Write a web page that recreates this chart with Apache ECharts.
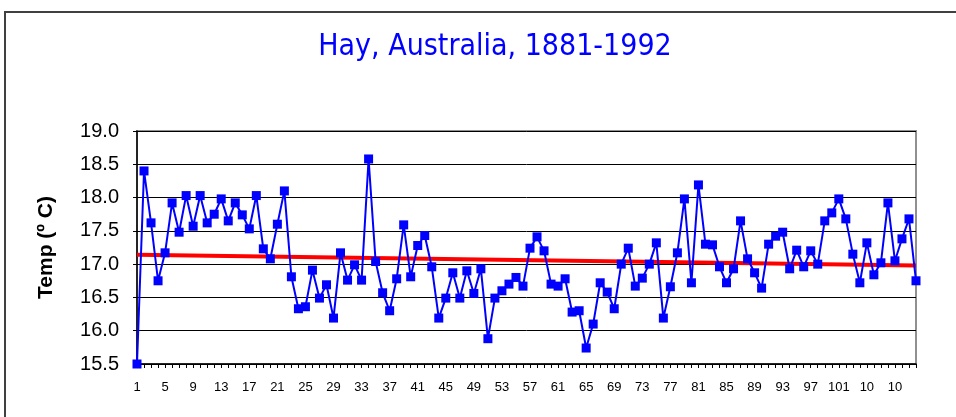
<!DOCTYPE html>
<html>
<head>
<meta charset="utf-8">
<script src="https://cdn.jsdelivr.net/npm/echarts@6/dist/echarts.min.js"></script>
<style>
    html, body { margin: 0; padding: 0; background: #fff; }
    #chart { width: 956px; height: 417px; }
</style>
</head>
<body>
<div id="chart"></div>
<script>
// mean annual temperature, Hay, 1881-1992 (one value per year)
var temps = [
    15.50, 18.40, 17.62, 16.75, 17.17, 17.92, 17.48, 18.03, 17.57, 18.03,
    17.62, 17.75, 17.98, 17.65, 17.92, 17.74, 17.53, 18.03, 17.23, 17.08,
    17.60, 18.10, 16.81, 16.33, 16.36, 16.91, 16.49, 16.69, 16.19, 17.17,
    16.76, 16.99, 16.76, 18.58, 17.04, 16.57, 16.30, 16.78, 17.59, 16.81,
    17.28, 17.43, 16.96, 16.19, 16.49, 16.87, 16.49, 16.90, 16.56, 16.93,
    15.88, 16.49, 16.60, 16.70, 16.80, 16.67, 17.24, 17.41, 17.20, 16.70,
    16.67, 16.78, 16.28, 16.30, 15.74, 16.10, 16.72, 16.58, 16.33, 17.00,
    17.24, 16.67, 16.79, 17.00, 17.32, 16.19, 16.66, 17.17, 17.98, 16.72,
    18.19, 17.30, 17.29, 16.96, 16.72, 16.93, 17.65, 17.08, 16.87, 16.64,
    17.30, 17.42, 17.48, 16.93, 17.21, 16.96, 17.20, 17.00, 17.65, 17.77,
    17.98, 17.68, 17.15, 16.72, 17.32, 16.84, 17.02, 17.92, 17.05, 17.38,
    17.68, 16.75
];

// linear trend line, value at first and last year
var trendStart = 17.14;
var trendEnd = 16.98;

// x axis labels as printed (every 4th point, last ones cut off)
var tickLabels = ['1', '5', '9', '13', '17', '21', '25', '29', '33', '37',
    '41', '45', '49', '53', '57', '61', '65', '69', '73', '77', '81', '85',
    '89', '93', '97', '101', '10', '10'];

var yTicks = ['15.5', '16.0', '16.5', '17.0', '17.5', '18.0', '18.5', '19.0'];

var categories = [];
var trend = [];
for (var i = 0; i < temps.length; i++) {
    categories.push(String(i + 1));
    trend.push(null);
}
trend[0] = trendStart;
trend[temps.length - 1] = trendEnd;

var myChart = echarts.init(document.getElementById('chart'));

var option = {
    animation: false,
    backgroundColor: '#fff',
    title: {
        text: 'Hay, Australia, 1881-1992',
        left: 490,
        top: 27,
        textAlign: 'center',
        textStyle: {
            color: '#0000ff',
            fontFamily: '"Comic Sans MS", "DejaVu Sans Condensed", "DejaVu Sans", sans-serif',
            fontWeight: 'normal',
            fontSize: 30
        }
    },
    graphic: [{
        type: 'rect',
        shape: { x: 5, y: 12, width: 1000, height: 500 },
        style: { fill: 'none', stroke: '#404040', lineWidth: 2 },
        silent: true
    }],
    grid: {
        left: 137,
        top: 131,
        right: 40,
        bottom: 53,
        show: true,
        borderColor: '#909090',
        borderWidth: 2,
        backgroundColor: '#fff'
    },
    xAxis: {
        type: 'category',
        data: categories,
        boundaryGap: false,
        axisLine: { lineStyle: { color: '#000', width: 1.5 } },
        axisTick: { show: true, interval: 0, length: 4, lineStyle: { color: '#000' } },
        axisLabel: {
            interval: 3,
            margin: 17,
            color: '#000',
            fontFamily: '"Liberation Sans", Arial, sans-serif',
            fontSize: 13,
            formatter: function (value, index) {
                return tickLabels[index / 4] || '';
            }
        },
        splitLine: { show: false }
    },
    yAxis: {
        type: 'value',
        min: 15.5,
        max: 19,
        interval: 0.5,
        name: 'Temp (º C)',
        nameLocation: 'middle',
        nameGap: 80,
        nameTextStyle: {
            color: '#000',
            fontFamily: '"Liberation Sans", Arial, sans-serif',
            fontWeight: 'bold',
            fontSize: 21
        },
        axisLine: { show: true, lineStyle: { color: '#000', width: 1.5 } },
        axisTick: { show: true, length: 4, lineStyle: { color: '#000' } },
        axisLabel: {
            margin: 18,
            color: '#000',
            fontFamily: '"Liberation Sans", Arial, sans-serif',
            fontSize: 20,
            formatter: function (value) {
                var idx = Math.round((value - 15.5) / 0.5);
                return yTicks[idx];
            }
        },
        splitLine: { show: true, lineStyle: { color: '#000', width: 1 } }
    },
    series: [{
        name: 'trend',
        type: 'line',
        data: trend,
        connectNulls: true,
        showSymbol: false,
        symbol: 'none',
        lineStyle: { color: '#ff0000', width: 4 },
        z: 2
    }, {
        name: 'temp',
        type: 'line',
        data: temps,
        symbol: 'rect',
        symbolSize: 9,
        showAllSymbol: true,
        itemStyle: { color: '#0000ff', borderColor: '#0000ff', borderWidth: 0 },
        lineStyle: { color: '#0000ff', width: 2 },
        z: 3
    }]
};

myChart.setOption(option);
</script>
</body>
</html>
